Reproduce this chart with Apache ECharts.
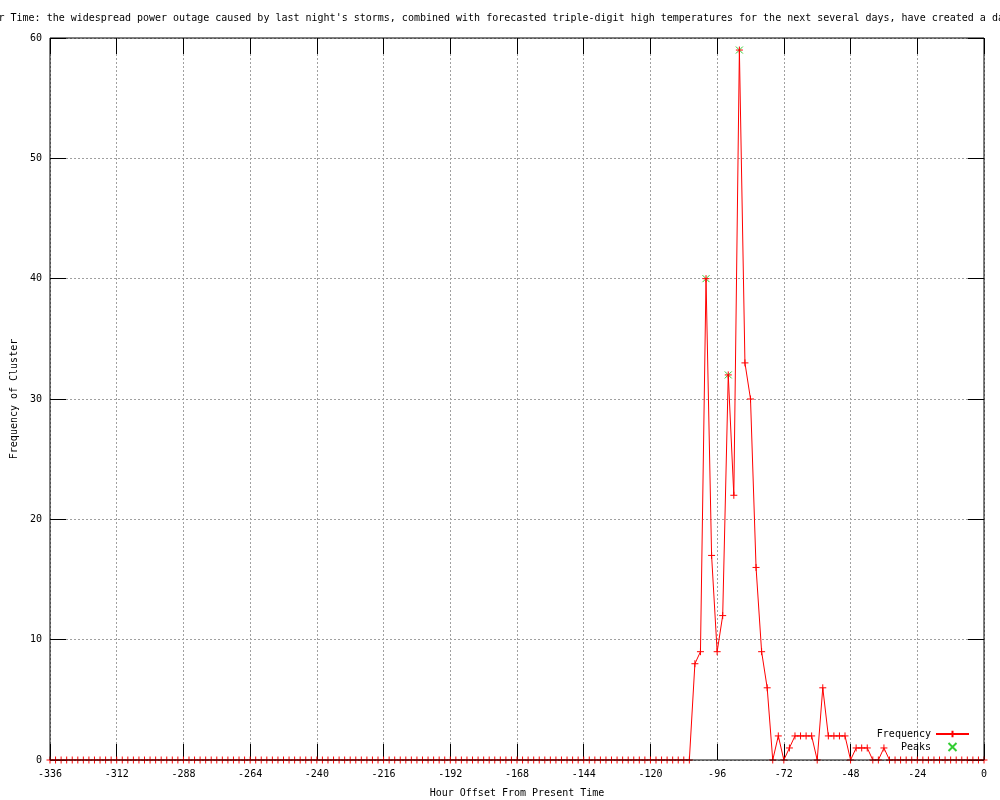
<!DOCTYPE html>
<html>
<head>
<meta charset="utf-8">
<script src="https://cdn.jsdelivr.net/npm/echarts@6/dist/echarts.min.js"></script>
<style>html,body{margin:0;padding:0;background:#fff;}#c{width:1000px;height:800px;}</style>
</head>
<body>
<div id="c"></div>
<script>
var titleText = "Frequency of Cluster Over Time: the widespread power outage caused by last night's storms, combined with forecasted triple-digit high temperatures for the next several days, have created a dangerous situation";
var xAxisName = "Hour Offset From Present Time";
var yAxisName = "Frequency of Cluster";

var hours = [-336,-334,-332,-330,-328,-326,-324,-322,-320,-318,-316,-314,-312,-310,-308,-306,-304,-302,-300,-298,
-296,-294,-292,-290,-288,-286,-284,-282,-280,-278,-276,-274,-272,-270,-268,-266,-264,-262,-260,-258,
-256,-254,-252,-250,-248,-246,-244,-242,-240,-238,-236,-234,-232,-230,-228,-226,-224,-222,-220,-218,
-216,-214,-212,-210,-208,-206,-204,-202,-200,-198,-196,-194,-192,-190,-188,-186,-184,-182,-180,-178,
-176,-174,-172,-170,-168,-166,-164,-162,-160,-158,-156,-154,-152,-150,-148,-146,-144,-142,-140,-138,
-136,-134,-132,-130,-128,-126,-124,-122,-120,-118,-116,-114,-112,-110,-108,-106,
-104,-102,-100,-98,-96,-94,-92,-90,-88,-86,-84,-82,-80,-78,-76,-74,-72,-70,-68,-66,
-64,-62,-60,-58,-56,-54,-52,-50,-48,-46,-44,-42,-40,-38,-36,-34,
-32,-30,-28,-26,-24,-22,-20,-18,-16,-14,-12,-10,-8,-6,-4,-2,0];

var frequency = [0,0,0,0,0,0,0,0,0,0,0,0,0,0,0,0,0,0,0,0,
0,0,0,0,0,0,0,0,0,0,0,0,0,0,0,0,0,0,0,0,
0,0,0,0,0,0,0,0,0,0,0,0,0,0,0,0,0,0,0,0,
0,0,0,0,0,0,0,0,0,0,0,0,0,0,0,0,0,0,0,0,
0,0,0,0,0,0,0,0,0,0,0,0,0,0,0,0,0,0,0,0,
0,0,0,0,0,0,0,0,0,0,0,0,0,0,0,0,
8,9,40,17,9,12,32,22,59,33,30,16,9,6,0,2,0,1,2,2,
2,2,0,6,2,2,2,2,0,1,1,1,0,0,1,0,
0,0,0,0,0,0,0,0,0,0,0,0,0,0,0,0,0];

var peakHours = [-100,-92,-88];
var peakValues = [40,32,59];

var xMin = -336, xMax = 0, xStep = 24;
var yMin = 0, yMax = 60, yStep = 10;

var FONT = 'DejaVu Sans Mono';
var plusPath = 'path://M0,5L10,5M5,0L5,10';
var crossPath = 'path://M0,0L10,10M10,0L0,10';

function pairs(a, b) { return a.map(function (v, i) { return [v, b[i]]; }); }

var chart = echarts.init(document.getElementById('c'), null, {renderer: 'canvas'});
var labelStyle = {color: '#000', fontFamily: FONT, fontSize: 10};
var gridLine = {show: true, lineStyle: {color: '#a0a0a0', type: [2, 2], width: 1}};
var noLine = {show: false, onZero: false};
var tick = {show: true, inside: true, length: 16, lineStyle: {color: '#000'}};

chart.setOption({
  animation: false,
  backgroundColor: '#fff',
  graphic: [{
    type: 'text', x: -146, y: 18,
    style: {text: titleText, font: '10px "' + FONT + '"', fill: '#000', align: 'left', verticalAlign: 'middle'}
  }],
  grid: {left: 50, right: 16, top: 38, bottom: 40, outerBoundsMode: 'none', containLabel: false,
    show: true, borderColor: '#000', borderWidth: 1, backgroundColor: 'transparent', z: 10},
  legend: {
    orient: 'vertical', align: 'right', right: 30, top: 729, padding: 0, itemGap: 3,
    itemWidth: 33, itemHeight: 8,
    textStyle: {color: '#000', fontFamily: FONT, fontSize: 10},
    data: ['Frequency', 'Peaks']
  },
  xAxis: [{
    type: 'value', min: xMin, max: xMax, interval: xStep, position: 'bottom',
    name: xAxisName, nameLocation: 'middle', nameGap: 28,
    nameTextStyle: {color: '#000', fontFamily: FONT, fontSize: 10},
    axisLine: noLine, axisTick: tick,
    axisLabel: Object.assign({margin: 9}, labelStyle),
    splitLine: gridLine
  }, {
    type: 'value', min: xMin, max: xMax, interval: xStep, position: 'top',
    axisLine: noLine, axisTick: tick,
    axisLabel: {show: false}, splitLine: {show: false}
  }],
  yAxis: [{
    type: 'value', min: yMin, max: yMax, interval: yStep, position: 'left',
    name: yAxisName, nameLocation: 'middle', nameGap: 30,
    nameTextStyle: {color: '#000', fontFamily: FONT, fontSize: 10},
    axisLine: noLine, axisTick: tick,
    axisLabel: Object.assign({margin: 8}, labelStyle),
    splitLine: gridLine
  }, {
    type: 'value', min: yMin, max: yMax, interval: yStep, position: 'right',
    axisLine: noLine, axisTick: tick,
    axisLabel: {show: false}, splitLine: {show: false}
  }],
  series: [{
    name: 'Frequency', type: 'line', xAxisIndex: 0, yAxisIndex: 0,
    data: pairs(hours, frequency),
    symbol: plusPath, symbolSize: 7, showAllSymbol: true,
    lineStyle: {color: '#ff0000', width: 1},
    itemStyle: {color: '#ff0000', borderColor: '#ff0000', borderWidth: 1},
    emphasis: {disabled: true}
  }, {
    name: 'Peaks', type: 'scatter', xAxisIndex: 0, yAxisIndex: 0,
    data: pairs(peakHours, peakValues),
    symbol: crossPath, symbolSize: 7,
    itemStyle: {color: '#00c000', borderColor: '#00c000', borderWidth: 1},
    emphasis: {disabled: true}
  }]
});
</script>
</body>
</html>
